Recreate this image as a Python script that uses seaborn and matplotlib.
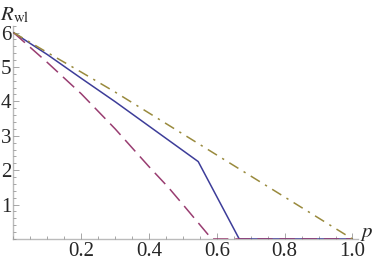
import numpy as np
import pandas as pd
import seaborn as sns
import matplotlib.pyplot as plt
from matplotlib.ticker import MultipleLocator, FixedLocator

# values
p_blue = [0.0, 0.1, 0.2, 0.3, 0.4, 0.5, 0.545, 0.666, 0.8, 1.0]
r_blue = [6.0, 5.36, 4.67, 3.99, 3.28, 2.57, 2.25, 0.0, 0.0, 0.0]

p_purple = [0.0, 0.1, 0.2, 0.3, 0.4, 0.457, 0.5, 0.585, 0.8, 1.0]
r_purple = [6.0, 5.13, 4.22, 3.20, 2.10, 1.50, 1.00, 0.0, 0.0, 0.0]

p_olive = [0.0, 0.1, 0.2, 0.3, 0.4, 0.5, 0.6, 0.7, 0.8, 0.9, 1.0]
r_olive = [6.0, 5.42, 4.85, 4.27, 3.66, 3.05, 2.44, 1.83, 1.22, 0.61, 0.0]

xtick_vals = [0.2, 0.4, 0.6, 0.8, 1.0]
ytick_vals = [1, 2, 3, 4, 5, 6]

df = pd.concat([
    pd.DataFrame({'p': p_blue, 'R': r_blue, 'case': 'a'}),
    pd.DataFrame({'p': p_purple, 'R': r_purple, 'case': 'b'}),
    pd.DataFrame({'p': p_olive, 'R': r_olive, 'case': 'c'}),
], ignore_index=True)

palette = {'a': '#3d3d99', 'b': '#993d71', 'c': '#998a3d'}
dashes = {'a': '', 'b': (10, 4.5), 'c': (7, 4, 1.5, 4)}

sns.set_style('ticks')
plt.rcParams['font.family'] = ['Liberation Serif', 'DejaVu Serif']
plt.rcParams['mathtext.fontset'] = 'stix'

fig = plt.figure(figsize=(3.74, 2.64), dpi=100)
ax = fig.add_axes([0.036, 0.0947, 0.920, 0.808])

sns.lineplot(data=df, x='p', y='R', hue='case', style='case', palette=palette,
             dashes=dashes, estimator=None, sort=False, legend=False,
             linewidth=1.1, ax=ax)

ax.set_xlim(0, 1.015)
ax.set_ylim(0, 6.2)
ax.set_xlabel('')
ax.set_ylabel('')

for s in ['top', 'right']:
    ax.spines[s].set_visible(False)
for s in ['left', 'bottom']:
    ax.spines[s].set_color('#bbbbbb')
    ax.spines[s].set_linewidth(1.0)
    ax.spines[s].set_zorder(0)

ax.xaxis.set_major_locator(FixedLocator(xtick_vals))
ax.yaxis.set_major_locator(FixedLocator(ytick_vals))
ax.xaxis.set_minor_locator(MultipleLocator(0.05))
ax.yaxis.set_minor_locator(MultipleLocator(0.2))
ax.set_xticklabels(['%.1f' % v for v in xtick_vals], fontsize=15, family='Liberation Serif')
ax.set_yticklabels([str(v) for v in ytick_vals], fontsize=15, family='Liberation Serif')
ax.tick_params(which='both', direction='in', color='#999999', width=0.6)
ax.tick_params(which='major', length=4)
ax.tick_params(which='minor', length=2)
ax.tick_params(axis='x', pad=2)
ax.tick_params(axis='y', pad=1.5)

fig.text(0.0, 0.94, r'$R_{\rm wl}$', fontsize=15, ha='left', va='center')
fig.text(0.962, 0.115, r'$p$', fontsize=15, ha='left', va='center')

fig.savefig('out.png', dpi=100)
print(fig.get_size_inches(), ax.get_xticklabels()[0].get_fontsize(), ax.get_xticklabels()[0].get_fontname())
